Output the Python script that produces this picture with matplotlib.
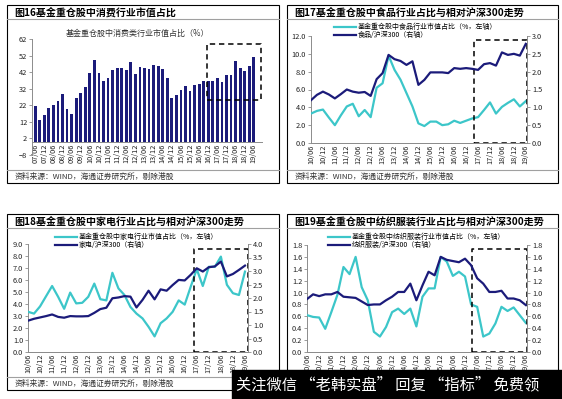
import matplotlib
matplotlib.use("Agg")
import matplotlib.pyplot as plt
from matplotlib.patches import Rectangle
from matplotlib.lines import Line2D

plt.rcParams['font.family'] = ['Noto Sans CJK SC', 'DejaVu Sans']

# ---- data ----
# fig16: consumer sector share of fund heavy holdings, quarterly 07/06 - 19/06
consumer_share = [21.7, 13.3, 15.9, 20.3, 21.9, 24.7, 28.8, 19.9, 16.9, 26.3,
                  29.4, 33.0, 41.4, 49.5, 41.2, 36.4, 38.6, 43.2, 44.3, 44.3,
                  43.4, 48.1, 40.8, 45.0, 44.3, 43.9, 46.5, 46.0, 44.0, 38.4,
                  26.3, 28.0, 31.4, 33.4, 30.8, 34.4, 35.0, 36.4, 36.4, 36.8,
                  38.4, 35.8, 40.0, 40.0, 48.5, 44.5, 42.4, 46.0, 50.9]
bar_labels = ["07/06", "07/12", "08/06", "08/12", "09/06", "09/12", "10/06", "10/12",
              "11/06", "11/12", "12/06", "12/12", "13/06", "13/12", "14/06", "14/12",
              "15/06", "15/12", "16/06", "16/12", "17/06", "17/12", "18/06", "18/12", "19/06"]

# quarterly 10/06 - 19/06, labels every half year
line_labels = bar_labels[6:]

food_share = [3.3, 3.6, 3.75, 2.85, 2.0, 3.1, 4.1, 4.4, 3.0, 3.7, 2.9, 6.2, 6.7,
              9.8, 8.2, 7.1, 5.6, 4.1, 2.2, 1.9, 2.4, 2.4, 2.0, 2.1, 2.5, 2.25,
              2.5, 2.75, 2.9, 3.7, 4.55, 3.3, 4.05, 4.5, 4.9, 4.1, 4.7]
food_rel = [1.20, 1.35, 1.44, 1.36, 1.25, 1.37, 1.50, 1.44, 1.41, 1.43, 1.32, 1.79,
            1.96, 2.47, 2.35, 2.30, 2.19, 2.29, 1.63, 1.77, 1.98, 1.98, 1.98, 1.96,
            2.10, 2.08, 2.10, 2.08, 2.05, 2.21, 2.24, 2.17, 2.54, 2.47, 2.50, 2.45, 2.78]

appl_share = [3.35, 3.2, 3.8, 4.65, 5.5, 4.6, 3.6, 4.95, 4.05, 4.1, 4.6, 5.7, 4.4,
              4.3, 6.6, 5.3, 4.75, 3.75, 3.2, 2.8, 2.1, 1.3, 2.4, 2.8, 3.35, 4.3,
              3.95, 5.45, 6.9, 5.5, 7.1, 7.1, 7.95, 5.6, 4.9, 4.75, 6.7]
appl_rel = [1.16, 1.23, 1.28, 1.33, 1.39, 1.30, 1.27, 1.33, 1.32, 1.32, 1.33, 1.45,
            1.59, 1.64, 1.99, 2.02, 2.07, 2.05, 1.65, 1.93, 2.27, 1.95, 2.32, 2.27,
            2.48, 2.67, 2.65, 2.86, 3.10, 2.98, 3.14, 3.17, 3.35, 2.80, 2.89, 3.04, 3.20]

text_share = [0.62, 0.59, 0.58, 0.39, 0.67, 0.96, 1.43, 1.31, 1.60, 1.09, 0.87, 0.34,
              0.26, 0.42, 0.67, 0.73, 0.64, 0.73, 0.43, 0.93, 1.07, 1.07, 1.60, 1.52,
              1.28, 1.35, 1.27, 0.80, 0.76, 0.26, 0.31, 0.48, 0.76, 0.69, 0.75, 0.62, 0.49]
text_rel = [0.89, 0.97, 0.94, 0.97, 0.97, 1.01, 0.93, 0.92, 0.91, 0.85, 0.79, 0.80,
            0.80, 0.87, 0.93, 1.01, 1.01, 1.15, 0.87, 1.12, 1.35, 1.29, 1.60, 1.55,
            1.53, 1.51, 1.57, 1.46, 1.24, 1.15, 1.01, 1.01, 1.03, 0.90, 0.90, 0.87, 0.79]

NAVY = "#1b1b7a"
CYAN = "#3cc6c9"
GRAY = "#8c8c8c"
W, H = 562, 399


def frac(l, t, r, b):
    return [l / W, 1 - b / H, (r - l) / W, (b - t) / H]


fig = plt.figure(figsize=(W / 100, H / 100), dpi=100)


def panel(l, t, r, b, title, footer=None):
    fig.patches.append(Rectangle((l / W, 1 - b / H), (r - l) / W, (b - t) / H,
                                 transform=fig.transFigure, fill=False,
                                 edgecolor="black", lw=0.8))
    for y in (t + 14, b - 13):
        fig.lines.append(Line2D([l / W, r / W], [1 - y / H, 1 - y / H],
                                transform=fig.transFigure, color="#a0a0a0", lw=0.8))
    fig.text((l + 7) / W, 1 - (t + 7.5) / H, title, fontsize=7.2, fontweight="bold",
             va="center", ha="left")
    if footer:
        fig.text((l + 8) / W, 1 - (b - 6) / H, footer, fontsize=5.6, color="#333333",
                 va="center", ha="left")


footer = "资料来源：WIND，海通证券研究所，剔除港股"
panel(7, 5, 279, 183, "图16基金重仓股中消费行业市值占比", footer)
panel(287, 5, 558, 183, "图17基金重仓股中食品行业占比与相对沪深300走势", footer)
panel(7, 214, 279, 390, "图18基金重仓股中家电行业占比与相对沪深300走势", footer)
# footer of fig19 is hidden under the watermark strip in the reference
panel(287, 214, 558, 390, "图19基金重仓股中纺织服装行业占比与相对沪深300走势")


def style(ax):
    for s in ("top", "right"):
        ax.spines[s].set_visible(False)
    for s in ("left", "bottom"):
        ax.spines[s].set_color(GRAY)
        ax.spines[s].set_linewidth(0.7)
    ax.tick_params(labelsize=5.3, length=2, width=0.6, color=GRAY, pad=1.5,
                   labelcolor="#222222")
    ax.patch.set_alpha(0)


def dash_box(ax, x0, x1, y0, y1):
    ax.plot([x0, x1, x1, x0, x0], [y0, y0, y1, y1, y0], color="black", lw=1.1,
            ls=(0, (3.5, 2.5)), clip_on=False, zorder=5)


# ---- fig16 bars ----
ax1 = fig.add_axes(frac(32, 39, 262, 155))
style(ax1)
xb = list(range(len(consumer_share)))
ax1.bar(xb, consumer_share, width=0.6, color=NAVY, zorder=2)
ax1.set_ylim(-8, 62)
ax1.set_yticks(range(-8, 63, 10))
ax1.set_xlim(-0.7, 49.8)
ax1.spines["bottom"].set_position(("data", 0))
ax1.set_xticks(xb[::2])
ax1.set_xticklabels(bar_labels, rotation=90)
ax1.tick_params(axis="x", length=0)
dash_box(ax1, 37.7, 49.6, 25, 59)
fig.text(137 / W, 1 - 33 / H, "基金重仓股中消费类行业市值占比（%）", fontsize=5.8,
         ha="center", va="center", color="#333333")


# ---- line panels ----
def line_panel(box, share, rel, lmax, lstep, rmax, rstep, xmax, lab1, lab2,
               dbox, leg_xy):
    ax = fig.add_axes(frac(*box))
    style(ax)
    axr = ax.twinx()
    style(axr)
    axr.spines["left"].set_visible(False)
    axr.spines["right"].set_visible(True)
    axr.spines["right"].set_color(GRAY)
    axr.spines["right"].set_linewidth(0.7)
    x = list(range(len(share)))
    l1, = ax.plot(x, share, color=CYAN, lw=1.6, zorder=3)
    l2, = axr.plot(x, rel, color=NAVY, lw=1.6, zorder=3)
    ax.set_ylim(0, lmax)
    axr.set_ylim(0, rmax)
    n = int(round(lmax / lstep))
    ax.set_yticks([i * lstep for i in range(n + 1)])
    ax.set_yticklabels([f"{i * lstep:.1f}" for i in range(n + 1)])
    m = int(round(rmax / rstep))
    axr.set_yticks([i * rstep for i in range(m + 1)])
    axr.set_yticklabels([f"{i * rstep:.1f}" for i in range(m + 1)])
    ax.set_xlim(0, xmax)
    ax.set_xticks(x[::2])
    ax.set_xticklabels(line_labels, rotation=90)
    ax.tick_params(axis="x", length=0)
    dash_box(ax, dbox[0], dbox[1], 0, dbox[2])
    fig.legend([l1, l2], [lab1, lab2], loc="upper left",
               bbox_to_anchor=(leg_xy[0] / W, 1 - leg_xy[1] / H), frameon=False,
               fontsize=5.0, handlelength=3.2, handletextpad=0.2, labelspacing=0.05,
               borderpad=0, borderaxespad=0)
    return ax


line_panel((311, 36, 527, 143), food_share, food_rel, 12, 2, 3, 0.5, 36.2,
           "基金重仓股中食品行业市值占比（%，左轴）", "食品/沪深300（右轴）",
           (27.3, 36.2, 11.6), (334, 23))
line_panel((28, 244, 248, 352), appl_share, appl_rel, 9, 1, 4, 0.5, 36.5,
           "基金重仓股中家电行业市值占比（%，左轴）", "家电/沪深300（右轴）",
           (27.5, 36.5, 8.58), (55, 233))
line_panel((307, 245, 527, 352), text_share, text_rel, 1.8, 0.2, 1.8, 0.2, 36.2,
           "基金重仓股中纺织服装行业市值占比（%，左轴）", "纺织服装/沪深300（右轴）",
           (27.2, 36.2, 1.73), (328, 233))

# watermark strip
fig.patches.append(Rectangle((232 / W, 0), (W - 232) / W, 29 / H,
                             transform=fig.transFigure, color="black", zorder=10))
fig.text(236 / W, 14.5 / H, "关注微信 “老韩实盘” 回复 “指标” 免费领",
         fontsize=11, color="white", va="center", ha="left", zorder=11)

fig.savefig("out.png", dpi=100)
